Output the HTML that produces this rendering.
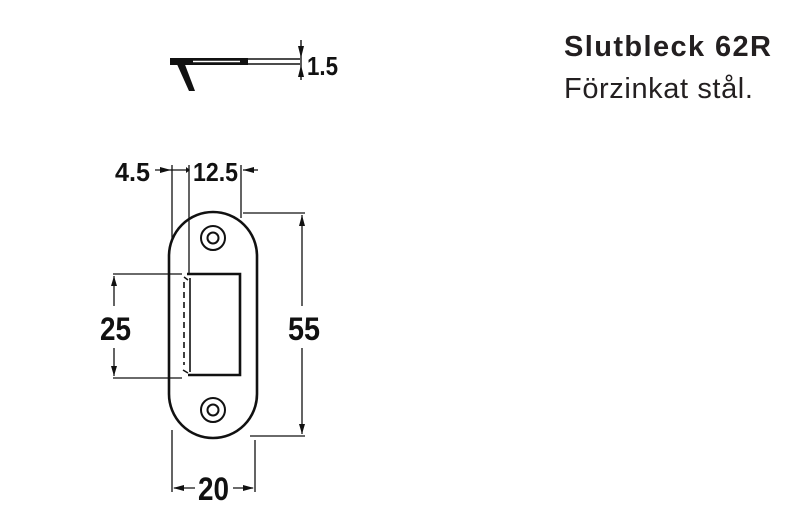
<!DOCTYPE html>
<html><head><style>
body{margin:0;width:800px;height:509px;background:#fff;overflow:hidden;position:relative}
.t{position:absolute;left:564px;font-family:"Liberation Sans",sans-serif;color:#231f20;white-space:nowrap;line-height:1}
</style></head><body>
<div class="t" style="top:33px;font-size:29px;font-weight:bold;letter-spacing:1.4px">Slutbleck 62R</div>
<div class="t" style="top:75px;font-size:29px;letter-spacing:0.6px">Förzinkat stål.</div>
<svg width="800" height="509" style="position:absolute;left:0;top:0" font-family="Liberation Sans, sans-serif" fill="none" stroke="#111">
<!-- side profile -->
<path d="M170 58 L248 58 L248 65 L170 65 Z" fill="#111" stroke="none"/>
<line x1="193" y1="61.5" x2="240" y2="61.5" stroke="#fff" stroke-width="1.5"/>
<path d="M176 62 L184 62 L195 91 L189 91 Z" fill="#111" stroke="none"/>
<line x1="248" y1="59" x2="300" y2="59" stroke-width="1.4"/>
<line x1="248" y1="64" x2="300" y2="64" stroke-width="1.4"/>
<line x1="301" y1="40" x2="301" y2="80" stroke-width="1.4"/>
<path d="M298 46 L304 46 L301 58 Z M298 77 L304 77 L301 65 Z" fill="#111" stroke="none"/>
<text x="307" y="75" font-size="26" font-weight="bold" fill="#111" stroke="none" textLength="31" lengthAdjust="spacingAndGlyphs">1.5</text>
<!-- plate -->
<rect x="169" y="212" width="88" height="226" rx="44" ry="44" stroke-width="2.6"/>
<circle cx="213" cy="238" r="12" stroke-width="2"/><circle cx="213" cy="238" r="5.5" stroke-width="2"/>
<circle cx="213" cy="410" r="12" stroke-width="2"/><circle cx="213" cy="410" r="5.5" stroke-width="2"/>
<path d="M187 274 L240 274 L240 375 L188 375" stroke-width="2.6"/>
<line x1="190" y1="278" x2="190" y2="372" stroke-width="1.6"/>
<line x1="184" y1="282" x2="184" y2="365" stroke-width="1.6" stroke-dasharray="6 4"/>
<path d="M184 277 L188 280 M183 370 L188 373" stroke-width="1.5"/>
<!-- 25 dim -->
<line x1="113" y1="274" x2="182" y2="274" stroke-width="1.3"/>
<line x1="113" y1="378" x2="182" y2="378" stroke-width="1.3"/>
<line x1="114" y1="276" x2="114" y2="306" stroke-width="1.3"/>
<line x1="114" y1="348" x2="114" y2="376" stroke-width="1.3"/>
<path d="M111 286 L117 286 L114 276 Z M111 366 L117 366 L114 376 Z" fill="#111" stroke="none"/>
<text x="100" y="340" font-size="32" font-weight="bold" fill="#111" stroke="none" textLength="31" lengthAdjust="spacingAndGlyphs">25</text>
<!-- 55 dim -->
<line x1="243" y1="213" x2="305" y2="213" stroke-width="1.3"/>
<line x1="250" y1="436" x2="305" y2="436" stroke-width="1.3"/>
<line x1="302" y1="215" x2="302" y2="306" stroke-width="1.3"/>
<line x1="302" y1="348" x2="302" y2="434" stroke-width="1.3"/>
<path d="M299 226 L305 226 L302 215 Z M299 424 L305 424 L302 434 Z" fill="#111" stroke="none"/>
<text x="288" y="340" font-size="32" font-weight="bold" fill="#111" stroke="none" textLength="32" lengthAdjust="spacingAndGlyphs">55</text>
<!-- top dims -->
<line x1="172" y1="165" x2="172" y2="240" stroke-width="1.3"/>
<line x1="189" y1="165" x2="189" y2="274" stroke-width="1.3"/>
<line x1="241" y1="165" x2="241" y2="218" stroke-width="1.3"/>
<line x1="155" y1="170" x2="186" y2="170" stroke-width="1.3"/>
<line x1="243" y1="170" x2="258" y2="170" stroke-width="1.3"/>
<path d="M160 167 L160 173 L171 170 Z M254 167 L254 173 L243 170 Z M186 167 L186 173 L190 170 Z" fill="#111" stroke="none"/>
<text x="115" y="181" font-size="26" font-weight="bold" fill="#111" stroke="none" textLength="35" lengthAdjust="spacingAndGlyphs">4.5</text>
<text x="193" y="181" font-size="26" font-weight="bold" fill="#111" stroke="none" textLength="45" lengthAdjust="spacingAndGlyphs">12.5</text>
<!-- 20 dim -->
<line x1="172" y1="430" x2="172" y2="492" stroke-width="1.3"/>
<line x1="255" y1="440" x2="255" y2="492" stroke-width="1.3"/>
<line x1="174" y1="488" x2="195" y2="488" stroke-width="1.3"/>
<line x1="233" y1="488" x2="253" y2="488" stroke-width="1.3"/>
<path d="M184 485 L184 491 L173 488 Z M243 485 L243 491 L254 488 Z" fill="#111" stroke="none"/>
<text x="198" y="500" font-size="32" font-weight="bold" fill="#111" stroke="none" textLength="31" lengthAdjust="spacingAndGlyphs">20</text>
</svg>
</body></html>
